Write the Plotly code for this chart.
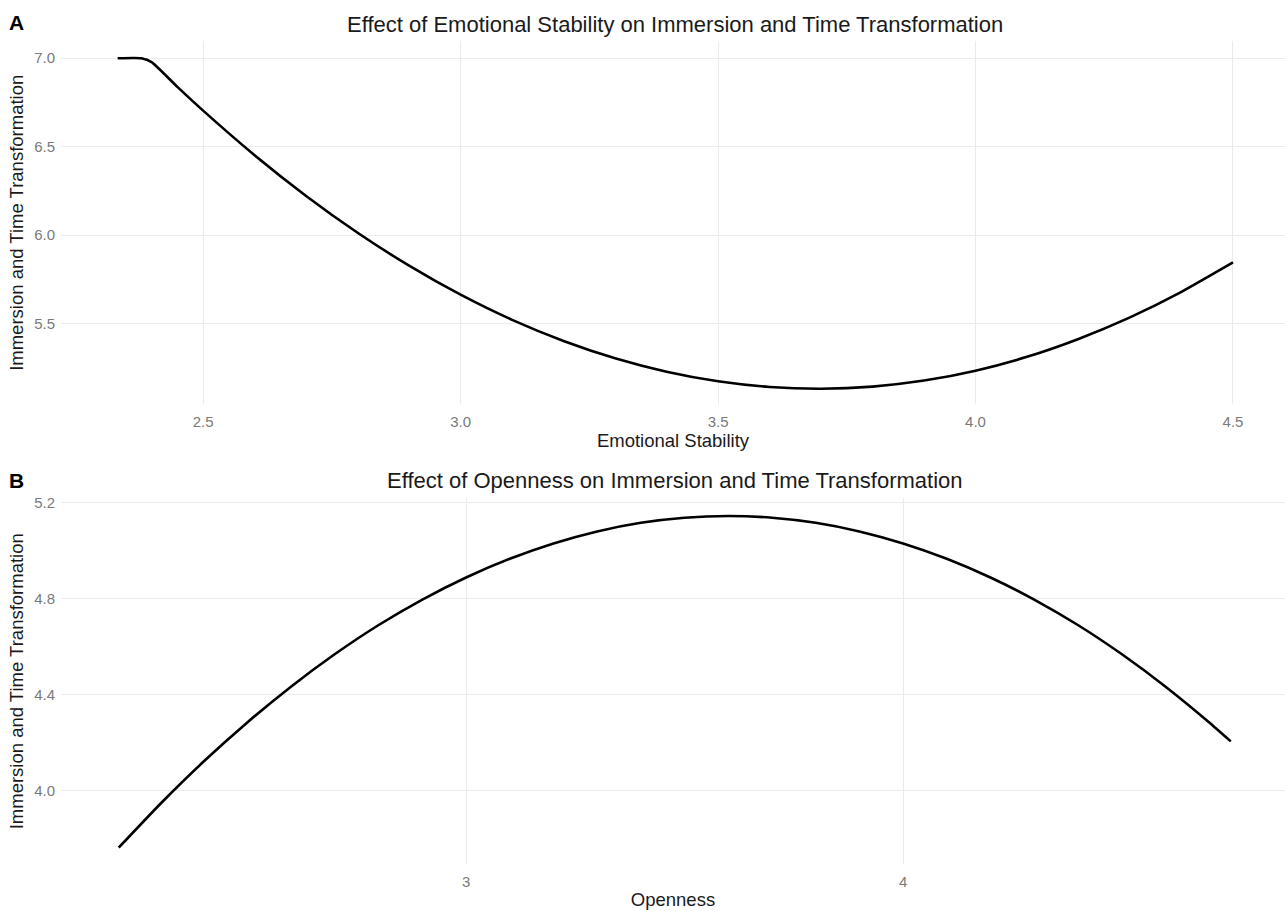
import plotly.graph_objects as go
from plotly.subplots import make_subplots

# Panel A: Emotional Stability vs. Immersion and Time Transformation
stability_x = [2.334, 2.380, 2.400, 2.450, 2.500, 2.600, 2.700, 2.800, 2.900, 3.000,
               3.100, 3.200, 3.300, 3.400, 3.500, 3.600, 3.700, 3.800, 3.900, 4.000,
               4.100, 4.200, 4.300, 4.400, 4.500]
stability_y = [7.000, 7.000, 6.978, 6.838, 6.704, 6.452, 6.222, 6.014, 5.828, 5.664,
               5.522, 5.403, 5.305, 5.229, 5.175, 5.143, 5.133, 5.145, 5.179, 5.235,
               5.313, 5.414, 5.536, 5.680, 5.846]

# Panel B: Openness vs. Immersion and Time Transformation
openness_x = [2.205, 2.300, 2.400, 2.500, 2.600, 2.700, 2.800, 2.900, 3.000, 3.100,
              3.200, 3.300, 3.400, 3.500, 3.600, 3.700, 3.800, 3.900, 4.000, 4.100,
              4.200, 4.300, 4.400, 4.500, 4.600, 4.700, 4.750]
openness_y = [3.761, 3.943, 4.121, 4.284, 4.433, 4.568, 4.689, 4.795, 4.887, 4.965,
              5.029, 5.079, 5.115, 5.136, 5.143, 5.136, 5.115, 5.079, 5.029, 4.965,
              4.887, 4.795, 4.689, 4.568, 4.433, 4.284, 4.204]

stability_ticks = [2.5, 3.0, 3.5, 4.0, 4.5]
stability_yticks = [5.5, 6.0, 6.5, 7.0]
openness_ticks = [3, 4]
openness_yticks = [4.0, 4.4, 4.8, 5.2]

W, H = 1285, 911
FONT = "Liberation Sans, Arial, sans-serif"
GRID = "#ebebeb"
TICK_COL = "#7a7a7a"
TEXT_COL = "#1a1a1a"

fig = make_subplots(rows=2, cols=1)

fig.add_trace(go.Scatter(x=stability_x, y=stability_y, mode="lines",
                         line=dict(color="black", width=2.6, shape="spline", smoothing=0.5),
                         showlegend=False), row=1, col=1)
fig.add_trace(go.Scatter(x=openness_x, y=openness_y, mode="lines",
                         line=dict(color="black", width=2.6, shape="spline", smoothing=0.5),
                         showlegend=False), row=2, col=1)

left = 61 / W
top_dom = [1 - 401.5 / H, 1 - 36.5 / H]
bot_dom = [1 - 864 / H, 1 - 496 / H]

common_x = dict(showgrid=True, gridcolor=GRID, gridwidth=1, zeroline=False,
                showline=False, ticks="outside", ticklen=4, tickcolor="rgba(0,0,0,0)",
                tickfont=dict(family=FONT, size=15, color=TICK_COL),
                title_font=dict(family=FONT, size=18.5, color=TEXT_COL))
common_y = dict(showgrid=True, gridcolor=GRID, gridwidth=1, zeroline=False,
                showline=False, ticks="outside", ticklen=2, tickcolor="rgba(0,0,0,0)",
                tickfont=dict(family=FONT, size=15, color=TICK_COL),
                title_font=dict(family=FONT, size=18.5, color=TEXT_COL))

fig.update_xaxes(domain=[left, 1], range=[2.224, 4.601], tickvals=stability_ticks,
                 tickformat=".1f", title_text="Emotional Stability", title_standoff=3,
                 row=1, col=1, **common_x)
fig.update_yaxes(domain=top_dom, range=[5.045, 7.0955], tickvals=stability_yticks,
                 tickformat=".1f", title_text="Immersion and Time Transformation",
                 title_standoff=5, row=1, col=1, **common_y)
fig.update_xaxes(domain=[left, 1], range=[2.073, 4.874], tickvals=openness_ticks,
                 title_text="Openness", title_standoff=3, row=2, col=1, **common_x)
fig.update_yaxes(domain=bot_dom, range=[3.692, 5.217], tickvals=openness_yticks,
                 tickformat=".1f", title_text="Immersion and Time Transformation",
                 title_standoff=5, row=2, col=1, **common_y)

annotations = [
    dict(text="Effect of Emotional Stability on Immersion and Time Transformation",
         x=(61 + 1289) / 2 / W, y=1 - 20 / H, xref="paper", yref="paper",
         xanchor="center", yanchor="middle", showarrow=False,
         font=dict(family=FONT, size=22, color=TEXT_COL)),
    dict(text="Effect of Openness on Immersion and Time Transformation",
         x=(61 + 1289) / 2 / W, y=1 - 478 / H, xref="paper", yref="paper",
         xanchor="center", yanchor="middle", showarrow=False,
         font=dict(family=FONT, size=22, color=TEXT_COL)),
    dict(text="<b>A</b>", x=7 / W, y=1 - 18 / H, xref="paper", yref="paper",
         xanchor="left", yanchor="middle", showarrow=False,
         font=dict(family=FONT, size=21, color="black")),
    dict(text="<b>B</b>", x=7 / W, y=1 - 478 / H, xref="paper", yref="paper",
         xanchor="left", yanchor="middle", showarrow=False,
         font=dict(family=FONT, size=21, color="black")),
]

fig.update_layout(width=W, height=H, margin=dict(l=0, r=0, t=0, b=0),
                  paper_bgcolor="white", plot_bgcolor="white",
                  annotations=annotations, showlegend=False)

fig.write_html("out.html")
